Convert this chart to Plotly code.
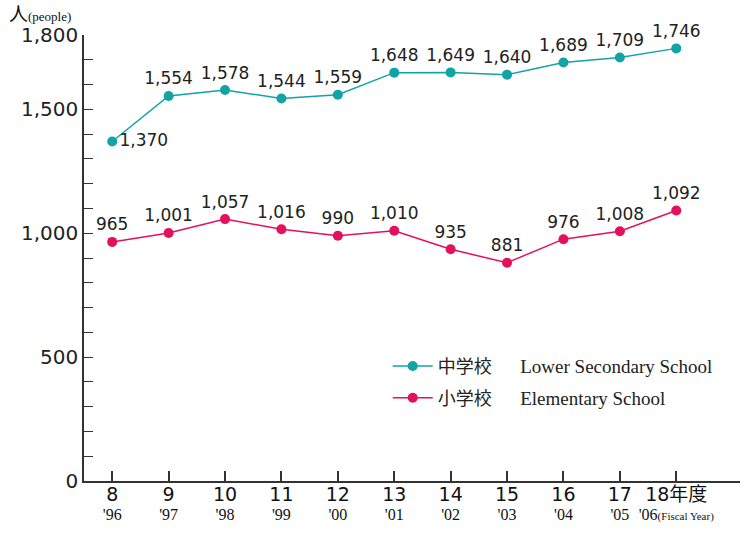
import plotly.graph_objects as go

years_jp = ["8", "9", "10", "11", "12", "13", "14", "15", "16", "17", "18年度"]
years_west = ["'96", "'97", "'98", "'99", "'00", "'01", "'02", "'03", "'04", "'05", "'06"]
lower_secondary = [1370, 1554, 1578, 1544, 1559, 1648, 1649, 1640, 1689, 1709, 1746]
elementary = [965, 1001, 1057, 1016, 990, 1010, 935, 881, 976, 1008, 1092]
y_labels = {0: "0", 500: "500", 1000: "1,000", 1500: "1,500", 1800: "1,800"}

TEAL = "#12a3a5"
PINK = "#e3105e"
SANS = "DejaVu Sans"
SERIF = "Liberation Serif"
CJK = "Noto Sans CJK JP"

x = list(range(len(years_jp)))

def fmt(v):
    return f"{v:,}"

ls_pos = ["middle right"] + ["top center"] * (len(x) - 1)
GAP = "&nbsp;" * 6

fig = go.Figure()
fig.add_trace(go.Scatter(
    x=x, y=lower_secondary, mode="lines+markers+text",
    name=f"<span style='font-family:{CJK};font-size:18px'>中学校</span>{GAP}<span style='font-family:{SERIF}'>Lower Secondary School</span>",
    line=dict(color=TEAL, width=1.5), marker=dict(color=TEAL, size=10),
    text=[fmt(v) for v in lower_secondary], textposition=ls_pos,
    textfont=dict(family=SANS, size=17, color="#222"),
    legendgroup="a", cliponaxis=False,
))
fig.add_trace(go.Scatter(
    x=x, y=elementary, mode="lines+markers+text",
    name=f"<span style='font-family:{CJK};font-size:18px'>小学校</span>{GAP}<span style='font-family:{SERIF}'>Elementary School</span>",
    line=dict(color=PINK, width=1.5), marker=dict(color=PINK, size=10),
    text=[fmt(v) for v in elementary], textposition="top center",
    textfont=dict(family=SANS, size=17, color="#222"),
    legendgroup="b", cliponaxis=False,
))

ticktext = []
for j, w in zip(years_jp, years_west):
    if j.endswith("年度"):
        top = f"<span style='font-size:19px'>{j[:-2]}</span><span style='font-family:{CJK};font-size:19px'>年度</span>"
        bottom = f"<span style='font-family:{SERIF};font-size:16px'>{w}</span><span style='font-family:{SERIF};font-size:11px'>(Fiscal Year)</span>"
    else:
        top = f"<span style='font-size:19px'>{j}</span>"
        bottom = f"<span style='font-family:{SERIF};font-size:16px'>{w}</span>"
    ticktext.append(f"{top}<br>{bottom}")

yvals = list(range(0, 1801, 100))
ytext = [y_labels.get(v, "") for v in yvals]

fig.update_layout(
    width=751, height=534,
    margin=dict(l=84, r=11, t=35, b=53),
    paper_bgcolor="white", plot_bgcolor="white",
    showlegend=True,
    legend=dict(x=0.463, y=0.30, xanchor="left", yanchor="top",
                font=dict(family=SERIF, size=19, color="#222"),
                itemwidth=40,
                traceorder="grouped", tracegroupgap=4, bgcolor="rgba(0,0,0,0)"),
    xaxis=dict(range=[-0.5, 11.13], tickmode="array", tickvals=x, ticktext=ticktext,
               ticks="inside", ticklen=10, tickwidth=1.5, tickcolor="#333",
               showline=True, linecolor="#333", linewidth=1.5, showgrid=False, zeroline=False,
               tickfont=dict(family=SANS, size=15, color="#111"), automargin=False),
    yaxis=dict(range=[0, 1800], tickmode="array", tickvals=yvals, ticktext=ytext,
               ticks="inside", ticklen=9, tickwidth=1.2, tickcolor="#333",
               showline=True, linecolor="#333", linewidth=1.5, showgrid=False, zeroline=False,
               tickfont=dict(family=SANS, size=20, color="#222"), automargin=False),
    annotations=[dict(
        xref="paper", yref="paper", x=-0.116, y=1.0, xanchor="left", yanchor="bottom",
        yshift=8, showarrow=False, borderpad=0,
        text=f"<span style='font-family:{CJK};font-size:19px'>人</span><span style='font-family:{SERIF};font-size:13px'>(people)</span>",
        font=dict(color="#111", size=16),
    )],
)

fig.write_html("out.html", config={"displayModeBar": False},
               post_script="document.body.style.margin='0';")
